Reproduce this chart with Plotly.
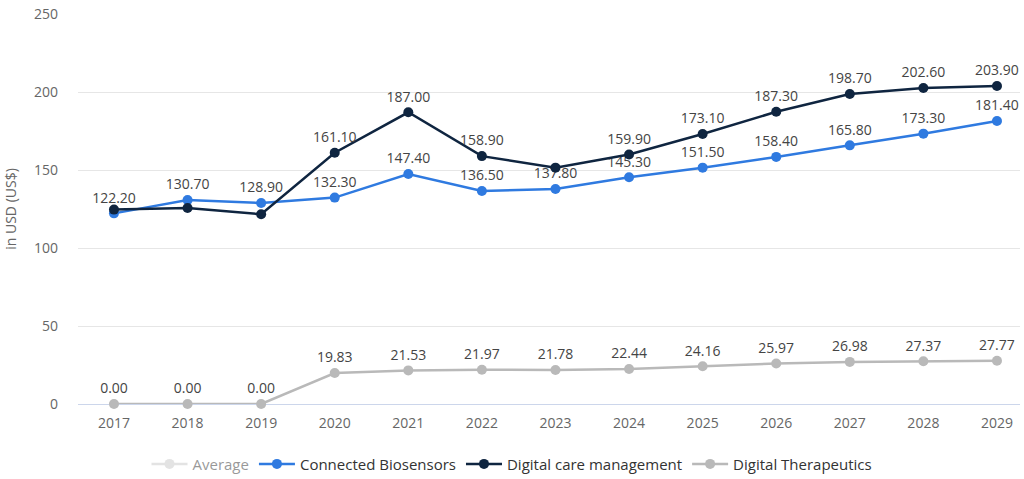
import plotly.graph_objects as go

years = [2017, 2018, 2019, 2020, 2021, 2022, 2023, 2024, 2025, 2026, 2027, 2028, 2029]
connected_biosensors = [122.2, 130.7, 128.9, 132.3, 147.4, 136.5, 137.8, 145.3, 151.5, 158.4, 165.8, 173.3, 181.4]
digital_care = [124.6, 125.6, 121.6, 161.1, 187.0, 158.9, 151.5, 159.9, 173.1, 187.3, 198.7, 202.6, 203.9]
digital_therapeutics = [0.0, 0.0, 0.0, 19.83, 21.53, 21.97, 21.78, 22.44, 24.16, 25.97, 26.98, 27.37, 27.77]

# labels shown on the dark line only where the reference shows them
care_labels = ["", "", "", "161.10", "187.00", "158.90", "", "159.90", "173.10", "187.30", "198.70", "202.60", "203.90"]

label_font = dict(color="#444444", size=14)

fig = go.Figure()

fig.add_trace(go.Scatter(
    x=years, y=[None] * len(years), name="Average", mode="lines+markers",
    line=dict(color="#c8c8c8", width=2.5), marker=dict(size=10),
    visible="legendonly",
))

fig.add_trace(go.Scatter(
    x=years, y=connected_biosensors, name="Connected Biosensors", mode="lines+markers+text",
    line=dict(color="#2f7ae0", width=2.5), marker=dict(size=10),
    text=["%.2f" % v for v in connected_biosensors], textposition="top center",
    textfont=label_font, cliponaxis=False,
))

fig.add_trace(go.Scatter(
    x=years, y=digital_care, name="Digital care management", mode="lines+markers+text",
    line=dict(color="#0f2540", width=2.5), marker=dict(size=10),
    text=care_labels, textposition="top center",
    textfont=label_font, cliponaxis=False,
))

fig.add_trace(go.Scatter(
    x=years, y=digital_therapeutics, name="Digital Therapeutics", mode="lines+markers+text",
    line=dict(color="#b9b9b9", width=2.5), marker=dict(size=10),
    text=["%.2f" % v for v in digital_therapeutics], textposition="top center",
    textfont=label_font, cliponaxis=False,
))

fig.update_layout(
    width=1024, height=479,
    margin=dict(l=78, r=4, t=14, b=75),
    plot_bgcolor="white", paper_bgcolor="white",
    font=dict(family="Open Sans", color="#666666", size=14),
    showlegend=True,
    legend=dict(orientation="h", x=0.5, xanchor="center", xref="container",
                y=0.031, yanchor="middle", yref="container", itemwidth=36,
                font=dict(color="#333333", size=15)),
    xaxis=dict(range=[2016.511, 2029.313], tickmode="array", tickvals=years,
               ticktext=[str(y) for y in years], showgrid=False, zeroline=False,
               showline=False, ticks="", automargin=False, ticklabelstandoff=9),
    yaxis=dict(range=[0, 250], dtick=50, gridcolor="#e6e6e6", zeroline=True,
               zerolinecolor="#ccd6eb", zerolinewidth=1, automargin=False,
               ticklabelstandoff=19,
               title=dict(text="in USD (US$)", font=dict(color="#666666", size=14), standoff=14)),
)

fig.write_html("out.html", config={"displayModeBar": False},
               post_script="document.body.style.margin='0';")
